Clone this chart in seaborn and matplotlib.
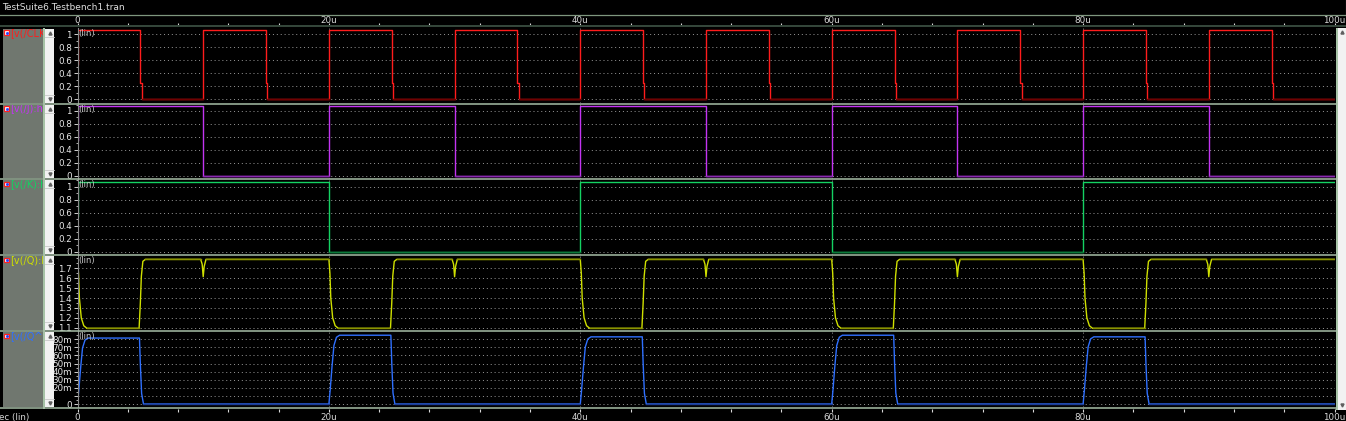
"""Transient waveforms of the JK flip-flop testbench, drawn like the waveform viewer."""

import matplotlib
matplotlib.use("Agg")
import matplotlib.pyplot as plt
import numpy as np
import pandas as pd
import seaborn as sns
from matplotlib.patches import Rectangle
from matplotlib.ticker import MultipleLocator

# ---- data (time in us, voltages in V) ----
TIME_TICKS = [0, 20, 40, 60, 80, 100]
TIME_LABELS = ["0", "20u", "40u", "60u", "80u", "100u"]

DIG_HIGH = 1.07
DIG_LOW = 0.0
DIG_START = 0.55

CLK_RISE = [10, 20, 30, 40, 50, 60, 70, 80, 90]
CLK_FALL = [5, 15, 25, 35, 45, 55, 65, 75, 85, 95]
J_RISE = [20, 40, 60, 80]
J_FALL = [10, 30, 50, 70, 90]
K_RISE = [40, 80]
K_FALL = [20, 60]
CLK_FALL_DT = [0.0, 0.0, 0.1, 0.1]
CLK_FALL_V = [1.07, 0.25, 0.25, 0.0]

Q_HIGH = 1.79
Q_LOW = 1.094
Q_FALL = [0, 20, 40, 60, 80]
Q_RISE = [5, 25, 45, 65, 85]
Q_GLITCH = [10, 30, 50, 70, 90]
Q_FALL_DT = [0.0, 0.08, 0.15, 0.3, 0.5, 0.75]
Q_FALL_V = [1.79, 1.65, 1.4, 1.2, 1.12, 1.094]
Q_RISE_DT = [-0.1, 0.0, 0.08, 0.2, 0.4]
Q_RISE_V = [1.094, 1.35, 1.62, 1.77, 1.79]
Q_GLITCH_DT = [-0.2, -0.08, 0.0, 0.08, 0.22]
Q_GLITCH_V = [1.79, 1.74, 1.615, 1.72, 1.79]

QB_RISE = [0, 20, 40, 60, 80]
QB_FALL = [5, 25, 45, 65, 85]
QB_HIGH = [0.0815, 0.085, 0.083, 0.085, 0.083]
QB_RISE_DT = [0.0, 0.1, 0.25, 0.4, 0.6, 0.85]
QB_RISE_FRAC = [0.0, 0.2, 0.55, 0.85, 0.97, 1.0]
QB_FALL_DT = [-0.07, 0.0, 0.1, 0.25]
QB_FALL_FRAC = [1.0, 0.6, 0.16, 0.0]

DIG_TICKS = [0, 0.2, 0.4, 0.6, 0.8, 1.0]
DIG_TICK_LABELS = ["0", "0.2", "0.4", "0.6", "0.8", "1"]
Q_TICKS = [1.1, 1.2, 1.3, 1.4, 1.5, 1.6, 1.7]
Q_TICK_LABELS = ["1.1", "1.2", "1.3", "1.4", "1.5", "1.6", "1.7"]
QB_TICKS = [0, 0.01, 0.02, 0.03, 0.04, 0.05, 0.06, 0.07, 0.08]
QB_TICK_LABELS = ["0", "", "20m", "30m", "40m", "50m", "60m", "70m", "80m"]

LABELS = ["[v(/CLK)", "[v(/J):his", "[v(/K):hi", "[v(/Q):hi", "[v(/Q^):"]
COLORS = ["#ff1c1c", "#c334f2", "#14d262", "#cfe000", "#2f70ff"]
DIM_COLORS = ["#700000", "#8a2ab0", "#0b7a3a", "#8a9200", "#1c3c96"]

W, H = 1346, 421
PANEL_PX = [(28, 103), (104, 178.5), (179.5, 254.5), (255.5, 330.5), (331.5, 407)]
PLOT_X0, PLOT_X1 = 77.5, 1334.5
SEP_Y = [103.5, 179, 255, 331, 407.7]


def make_wave(events, t_end=100.0):
    """Chain transition shapes [(t0, dts, values), ...] into one waveform."""
    ts, vs = [], []
    for t0, dts, vals in sorted(events, key=lambda e: e[0]):
        ts.extend(t0 + d for d in dts)
        vs.extend(vals)
    ts.append(t_end)
    vs.append(vs[-1])
    return pd.DataFrame({"t": ts, "v": vs})


def digital_wave(rises, falls, fall_dt=(0.0, 0.0), fall_v=(DIG_HIGH, DIG_LOW)):
    events = [(0, [0.0, 0.0], [DIG_START, DIG_HIGH])]
    events += [(t, [0.0, 0.0], [DIG_LOW, DIG_HIGH]) for t in rises]
    events += [(t, list(fall_dt), list(fall_v)) for t in falls]
    return make_wave(events)


def px_axes(fig, x0, y0, x1, y1, **kw):
    return fig.add_axes([x0 / W, 1 - y1 / H, (x1 - x0) / W, (y1 - y0) / H], **kw)


def main():
    waves = [
        digital_wave(CLK_RISE, CLK_FALL, CLK_FALL_DT, CLK_FALL_V),
        digital_wave(J_RISE, J_FALL),
        digital_wave(K_RISE, K_FALL),
        make_wave([(t, Q_FALL_DT, Q_FALL_V) for t in Q_FALL]
                  + [(t, Q_RISE_DT, Q_RISE_V) for t in Q_RISE]
                  + [(t, Q_GLITCH_DT, Q_GLITCH_V) for t in Q_GLITCH]),
        make_wave([(t, QB_RISE_DT, [f * h for f in QB_RISE_FRAC])
                   for t, h in zip(QB_RISE, QB_HIGH)]
                  + [(t, QB_FALL_DT, [f * h for f in QB_FALL_FRAC])
                     for t, h in zip(QB_FALL, QB_HIGH)]),
    ]
    dim_levels = [[DIG_LOW], [DIG_LOW], [DIG_LOW], [Q_HIGH, Q_LOW], [0.0]]
    ylims = [(-0.057, 1.097), (-0.043, 1.108), (-0.043, 1.115),
             (1.072, 1.829), (-0.0037, 0.0896)]
    yticks = [(DIG_TICKS, DIG_TICK_LABELS, 0.1)] * 3 + [
        (Q_TICKS, Q_TICK_LABELS, 0.05), (QB_TICKS, QB_TICK_LABELS, 0.005)]

    plt.rcParams["font.family"] = ["DejaVu Sans"]
    fig = plt.figure(figsize=(W / 100, H / 100), dpi=100, facecolor="black")

    grid_kw = dict(color="#9a9a9a", ls=(0, (1, 3)), lw=0.7)
    for i, (top, bottom) in enumerate(PANEL_PX):
        ax = px_axes(fig, PLOT_X0, top, PLOT_X1, bottom)
        ax.set_facecolor("black")
        df = waves[i]
        sns.lineplot(data=df, x="t", y="v", ax=ax, color=COLORS[i], lw=1.0,
                     estimator=None, sort=False)
        # flat segments look dimmer in the viewer
        vals = df["v"].to_numpy()
        mask = np.zeros(len(vals), dtype=bool)
        for lev in dim_levels[i]:
            mask |= np.isclose(vals, lev)
        ax.plot(df["t"], np.where(mask, vals, np.nan), color=DIM_COLORS[i],
                lw=1.0, zorder=3)
        ax.set(xlim=(0, 100), ylim=ylims[i], xlabel="", ylabel="")
        ticks, labels, minor = yticks[i]
        ax.set_yticks(ticks, labels)
        ax.yaxis.set_minor_locator(MultipleLocator(minor))
        ax.set_xticks(TIME_TICKS)
        ax.tick_params(axis="x", bottom=False, labelbottom=False)
        ax.tick_params(axis="y", which="major", length=3, width=0.7,
                       color="#d0d0d0", labelcolor="#e8e8e8", labelsize=6.3,
                       pad=1)
        ax.tick_params(axis="y", which="minor", length=1.8, width=0.6,
                       color="#d0d0d0")
        ax.grid(True, which="major", **grid_kw)
        for side in ("top", "right", "bottom"):
            ax.spines[side].set_visible(False)
        ax.spines["left"].set_color("#8a8a8a")
        ax.spines["left"].set_linewidth(0.8)

    # time axis strips (top and bottom)
    for y0, y1, on_top, pad in ((25.5, 27.5, True, -2),
                                (406.5, 408.5, False, 1)):
        axt = px_axes(fig, PLOT_X0, y0, PLOT_X1, y1)
        axt.patch.set_visible(False)
        axt.set_xlim(0, 100)
        axt.set_yticks([])
        axt.set_xticks(TIME_TICKS, TIME_LABELS)
        axt.xaxis.set_minor_locator(MultipleLocator(4))
        for s in axt.spines.values():
            s.set_visible(False)
        axt.tick_params(axis="x", which="both", top=on_top, labeltop=on_top,
                        bottom=not on_top, labelbottom=not on_top,
                        direction="out", length=2.5, width=0.8,
                        color="#d8d8d8", labelcolor="#d8d8d8", labelsize=6.3,
                        pad=pad)

    # viewer chrome in pixel coordinates
    ui = fig.add_axes([0, 0, 1, 1], zorder=10)
    ui.patch.set_visible(False)
    ui.set_xlim(0, W)
    ui.set_ylim(H, 0)
    ui.axis("off")

    ui.text(2, 7, "TestSuite6.Testbench1.tran", color="#e0e0e0", fontsize=6.5,
            va="center", ha="left")
    ui.plot([0, W], [14.5, 14.5], color="#7e967e", lw=0.9)
    ui.plot([1345.5, 1345.5], [0, 14], color="#a0a0a0", lw=0.8)
    ui.add_patch(Rectangle((0, 25.3), W, 2, color="#34463a", lw=0))
    ui.text(-1, 417.5, "ec (lin)", color="#d8d8d8", fontsize=6.3,
            va="center", ha="left")

    # left green rail and right scrollbar
    ui.add_patch(Rectangle((43.3, 27.5), 1.8, 381, color="#a6c2a6", lw=0))
    ui.add_patch(Rectangle((1335.5, 27.5), 2, 382, color="#a6c2a6", lw=0))
    ui.add_patch(Rectangle((1337.5, 27.5), 8.5, 382, color="#f2f2f2", lw=0))
    ui.plot([1341.8], [32], marker="^", ms=2.2, color="#606060")
    ui.plot([1341.8], [405], marker="v", ms=2.2, color="#606060")

    for i, (top, bottom) in enumerate(PANEL_PX):
        box = Rectangle((3.3, top + 0.5), 40, bottom - top - 1,
                        color="#70776f", lw=0)
        ui.add_patch(box)
        ui.add_patch(Rectangle((45.2, top + 0.5), 8.6, bottom - top - 1,
                               color="#f2f2f2", lw=0))
        ui.plot([45.2, 53.8], [top + 8.5, top + 8.5], color="#c8c8c8", lw=0.6)
        ui.plot([45.2, 53.8], [bottom - 8.5, bottom - 8.5], color="#c8c8c8",
                lw=0.6)
        ui.plot([49.5], [top + 4.5], marker="^", ms=2.2, color="#606060")
        ui.plot([49.5], [bottom - 4.5], marker="v", ms=2.2, color="#606060")
        # small probe icon
        ui.add_patch(Rectangle((4.2, top + 2.2), 4.6, 4.6, facecolor="white",
                               edgecolor="#ff2020", lw=0.9))
        ui.plot([6.5], [top + 4.5], marker="s", ms=1.0, color="#2040ff")
        txt = ui.text(10, top + 4.8, LABELS[i], color=COLORS[i], fontsize=7,
                      va="center", ha="left", clip_on=True)
        txt.set_clip_path(box)
        ui.text(78.5, top + 5.5, "(lin)", color="#c4c4c4", fontsize=6,
                va="center", ha="left")

    for y in SEP_Y:
        ui.plot([0, 1336], [y, y], color="#a6bea6", lw=1.1)

    fig.savefig("out.png", dpi=100, facecolor="black")


if __name__ == "__main__":
    main()
